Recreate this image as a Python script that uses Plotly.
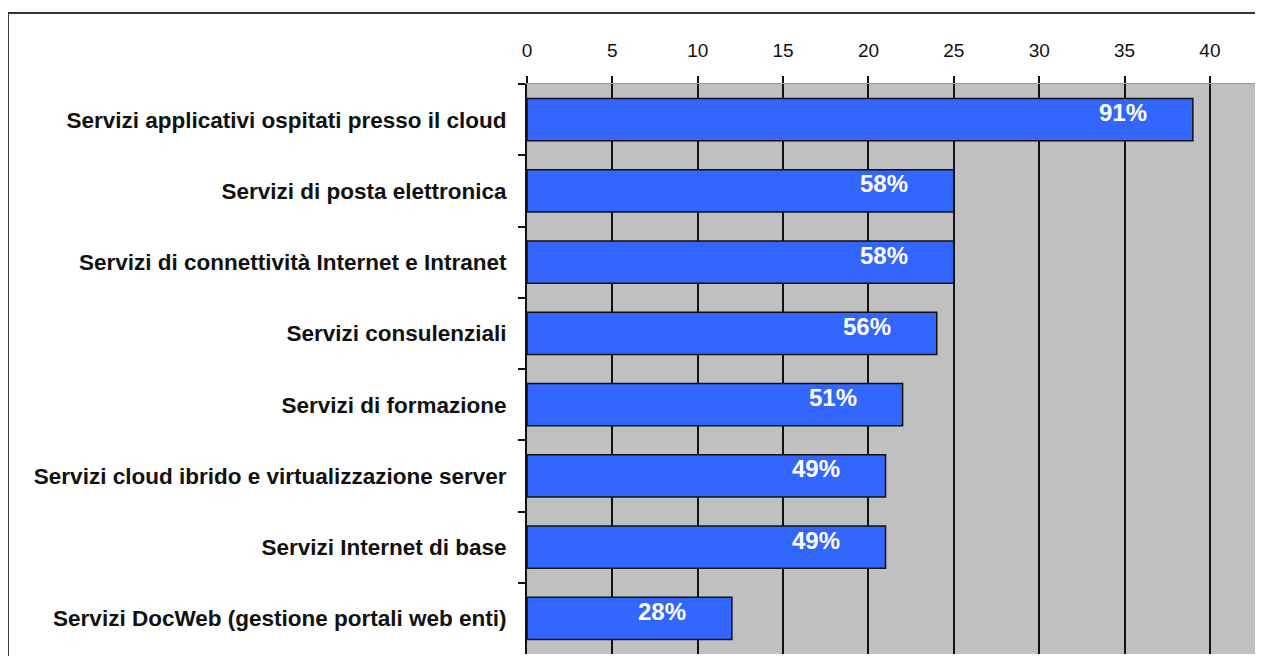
import plotly.graph_objects as go

categories = [
    "Servizi applicativi ospitati presso il cloud",
    "Servizi di posta elettronica",
    "Servizi di connettività Internet e Intranet",
    "Servizi consulenziali",
    "Servizi di formazione",
    "Servizi cloud ibrido e virtualizzazione server",
    "Servizi Internet di base",
    "Servizi DocWeb (gestione portali web enti)",
]
values = [39, 25, 25, 24, 22, 21, 21, 12]
pct_labels = ["91%", "58%", "58%", "56%", "51%", "49%", "49%", "28%"]
x_ticks = [0, 5, 10, 15, 20, 25, 30, 35, 40]

FONT = "Liberation Sans, Arial, sans-serif"

fig = go.Figure()
fig.add_trace(go.Bar(
    y=categories, x=values, orientation="h",
    marker=dict(color="#3366FF", line=dict(color="#111111", width=1.5)),
    hoverinfo="skip",
))

annotations = []
for c, v, t in zip(categories, values, pct_labels):
    annotations.append(dict(
        x=v, y=c, xref="x", yref="y", text=t, showarrow=False,
        xanchor="right", yanchor="middle", xshift=-44, yshift=7,
        font=dict(family=FONT, size=24, color="white", weight="bold"),
    ))

fig.update_layout(
    width=1247, height=648,
    margin=dict(l=519, r=0, t=76, b=2, pad=0),
    paper_bgcolor="white",
    plot_bgcolor="#C0C0C0",
    bargap=0.41,
    showlegend=False,
    annotations=annotations,
    shapes=[dict(
        type="rect", xref="paper", yref="paper",
        x0=-0.713, x1=1.03, y0=-0.05, y1=1.1246,
        line=dict(color="#333333", width=2), fillcolor="rgba(0,0,0,0)", layer="below",
    )],
    xaxis=dict(
        side="top", range=[0, 42.64], tickvals=x_ticks,
        ticktext=[str(v) for v in x_ticks],
        showgrid=True, gridcolor="#111111", gridwidth=2,
        ticks="outside", ticklen=7, tickcolor="#111111", tickwidth=2,
        ticklabelstandoff=11,
        tickfont=dict(family=FONT, size=19, color="#111111"),
        showline=True, linecolor="#999999", linewidth=1,
        zeroline=False, fixedrange=True,
    ),
    yaxis=dict(
        autorange="reversed", type="category",
        tickson="boundaries", ticks="outside", ticklen=7, tickcolor="#111111", tickwidth=2,
        ticklabelstandoff=14,
        tickfont=dict(family=FONT, size=22.5, color="#111111", weight="bold"),
        showline=True, linecolor="#111111", linewidth=2,
        showgrid=False, zeroline=False, fixedrange=True,
    ),
)

fig.write_html("out.html")
